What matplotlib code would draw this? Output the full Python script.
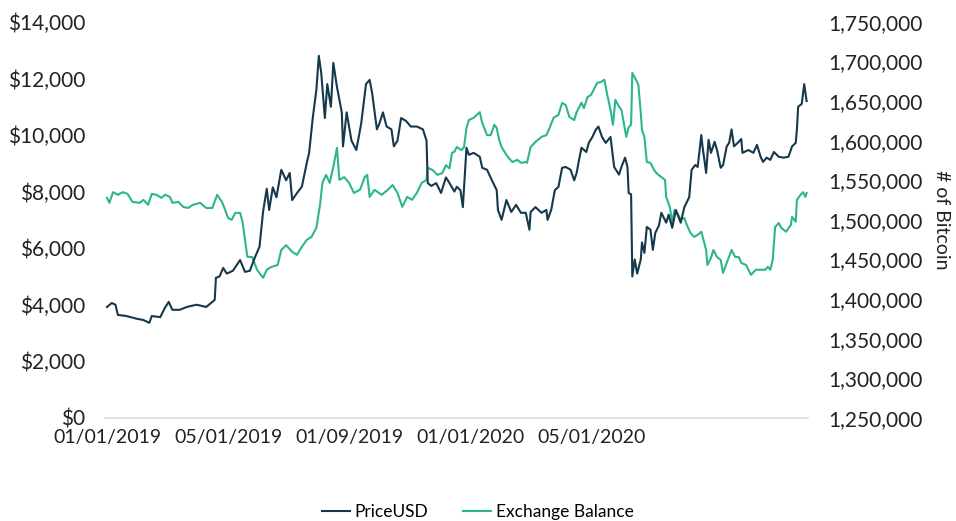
import numpy as np
import pandas as pd
import matplotlib
matplotlib.use("Agg")
import matplotlib.pyplot as plt
from matplotlib.ticker import FuncFormatter, MultipleLocator

plt.rcParams['font.family'] = ['Lato', 'DejaVu Sans']

START = pd.Timestamp("2019-01-01")

# day offsets from 2019-01-01 and BTC price (USD)
price_days = [0, 4, 7, 9, 16, 25, 30, 35, 37, 44, 48, 51, 54, 60, 66, 74, 82, 87, 89, 90,
              93, 96, 99, 104, 110, 114, 118, 122, 126, 129, 132, 134, 137, 140, 144, 148, 151, 153, 157, 161,
              165, 167, 170, 173, 175, 177, 180, 182, 185, 187, 190, 194, 195, 198, 202, 206, 210, 214, 217, 219,
              223, 225, 228, 231, 235, 237, 240, 243, 247, 251, 256, 261, 264, 265, 268, 272, 276, 280, 283, 287,
              289, 292, 294, 297, 299, 303, 308, 310, 314, 318, 322, 323, 326, 330, 334, 338, 342, 346, 349, 350,
              354, 359, 363, 364, 367, 370, 373, 376, 379, 383, 386, 388, 390, 392, 396, 398, 401, 404, 406, 409,
              412, 416, 419, 423, 425, 428, 430, 431, 433, 434, 436, 438, 441, 442, 444, 446, 449, 451, 453, 456,
              458, 462, 464, 467, 470, 474, 477, 481, 483, 486, 488, 491, 492, 495, 497, 499, 502, 504, 507, 509,
              512, 514, 516, 518, 522, 524, 525, 530, 534, 537, 540, 542, 545, 548, 551, 555, 559, 563, 566, 569,
              570, 571, 574, 576, 578]
price_usd = [3920, 4060, 4000, 3640, 3600, 3500, 3460, 3360, 3600, 3560, 3900, 4100, 3820, 3820, 3920, 4000, 3920, 4100, 4170, 4950,
             5000, 5300, 5100, 5200, 5580, 5160, 5200, 5650, 6050, 7300, 8100, 7350, 8150, 7800, 8770, 8400, 8660, 7700, 7950, 8170,
             9000, 9370, 10600, 11600, 12800, 12200, 10600, 11800, 11000, 12550, 11700, 10800, 9600, 10800, 9800, 9470, 10400, 11800, 11950, 11500,
             10200, 10400, 10800, 10300, 10200, 9600, 9800, 10600, 10500, 10300, 10300, 10200, 9800, 8300, 8200, 8300, 7950, 8500, 8300, 8000,
             8170, 8050, 7450, 9550, 9300, 9370, 9230, 8840, 8770, 8400, 8050, 7350, 7000, 7700, 7280, 7530, 7250, 7250, 6650, 7280,
             7450, 7250, 7350, 7000, 7350, 8050, 8170, 8840, 8870, 8770, 8400, 8660, 9120, 9550, 9400, 9720, 9930, 10200, 10300, 9930,
             9720, 9930, 8870, 8600, 8870, 9200, 8870, 7950, 7900, 5000, 5600, 5100, 5600, 6200, 5830, 6750, 6650, 5940, 6540, 6800,
             7250, 6900, 7180, 6720, 7350, 6900, 7450, 7800, 8770, 8940, 8870, 10000, 9600, 8660, 9830, 9370, 9760, 9470, 8840, 8940,
             9600, 9720, 10200, 9600, 9760, 9860, 9370, 9470, 9370, 9650, 9230, 9050, 9200, 9120, 9400, 9230, 9200, 9230, 9600, 9720,
             10200, 11000, 11100, 11800, 11200]

# day offsets and BTC held on exchanges
bal_days = [0, 2, 5, 9, 13, 17, 21, 27, 30, 34, 37, 41, 45, 48, 52, 54, 59, 63, 67, 71,
            77, 82, 87, 91, 95, 97, 100, 103, 106, 110, 112, 114, 116, 120, 124, 129, 132, 136, 141, 144,
            148, 153, 157, 161, 165, 169, 173, 176, 178, 181, 184, 187, 190, 192, 196, 200, 204, 209, 213, 215,
            217, 221, 227, 232, 236, 240, 244, 248, 252, 256, 260, 264, 265, 269, 273, 277, 280, 283, 285, 287,
            289, 293, 295, 297, 299, 303, 308, 310, 314, 317, 320, 322, 324, 326, 330, 332, 335, 339, 342, 346,
            347, 350, 354, 359, 363, 365, 369, 373, 376, 379, 382, 386, 388, 392, 394, 397, 400, 402, 405, 408,
            411, 413, 416, 418, 420, 423, 425, 429, 431, 433, 434, 437, 439, 441, 442, 444, 446, 449, 452, 454,
            458, 461, 462, 465, 467, 469, 472, 474, 477, 479, 482, 485, 488, 491, 495, 496, 499, 501, 504, 507,
            509, 512, 516, 519, 522, 524, 528, 532, 536, 540, 544, 546, 548, 550, 552, 555, 557, 561, 565, 566,
            569, 570, 573, 575, 577, 578]
exchange_balance = [1527800, 1521500, 1535000, 1531600, 1535000, 1532800, 1522700, 1521500, 1525300, 1519000,
                    1532800, 1531600, 1527800, 1531600, 1529000, 1521500, 1522700, 1516400, 1515000, 1519000,
                    1521500, 1515000, 1515000, 1531600, 1522700, 1515000, 1502500, 1500000, 1508800, 1508800,
                    1497500, 1474700, 1453300, 1453000, 1436900, 1426800, 1437000, 1440700, 1443000, 1462000,
                    1468000, 1459600, 1455800, 1466000, 1474700, 1478500, 1490000, 1519000, 1546700, 1556800,
                    1546700, 1567000, 1591000, 1550500, 1554000, 1546700, 1534000, 1538000, 1554000, 1556800,
                    1529000, 1538000, 1531600, 1538000, 1544000, 1534000, 1516400, 1529000, 1525300, 1534000,
                    1546700, 1550500, 1565700, 1563000, 1556800, 1559000, 1569000, 1565000, 1584600, 1586000,
                    1592000, 1588000, 1592000, 1616000, 1626000, 1629000, 1636000, 1622500, 1607000, 1607000,
                    1620000, 1616000, 1601000, 1592000, 1582000, 1578000, 1573000, 1575800, 1572000, 1573000,
                    1572000, 1592000, 1598500, 1604800, 1607000, 1613600, 1629000, 1632600, 1647700, 1645000,
                    1630000, 1626000, 1636000, 1648000, 1641000, 1655000, 1658000, 1664000, 1673000, 1674000,
                    1677000, 1660000, 1639000, 1620000, 1651500, 1643000, 1639000, 1604800, 1617000, 1620000,
                    1685600, 1677000, 1670500, 1635000, 1613600, 1605000, 1573000, 1572000, 1563000, 1559000,
                    1554000, 1550500, 1529000, 1516000, 1497500, 1512600, 1506000, 1500000, 1502500, 1493700,
                    1483600, 1478500, 1481000, 1485000, 1462000, 1443000, 1452000, 1462000, 1453000, 1449500,
                    1433000, 1445700, 1462000, 1453000, 1453000, 1445700, 1443000, 1430600, 1437000, 1437000,
                    1437000, 1440700, 1437000, 1449500, 1491000, 1496000, 1490000, 1485000, 1493700, 1503800,
                    1497500, 1525300, 1531600, 1535000, 1529000, 1534000]

tick_labels = ["01/01/2019", "05/01/2019", "01/09/2019", "01/01/2020", "05/01/2020"]

price_dates = START + pd.to_timedelta(price_days, unit="D")
bal_dates = START + pd.to_timedelta(bal_days, unit="D")
tick_dates = pd.date_range(START, periods=len(tick_labels), freq="100D")

DARK = "#15384b"
GREEN = "#2db590"

fig = plt.figure(figsize=(9.56, 5.21), dpi=100)
ax = fig.add_axes([0.110, 0.198, 0.735, 0.760])
ax2 = ax.twinx()

l1, = ax.plot(price_dates, price_usd, color=DARK, lw=1.5, label="PriceUSD")
l2, = ax2.plot(bal_dates, exchange_balance, color=GREEN, lw=1.5, label="Exchange Balance")
ax.set_zorder(ax2.get_zorder() + 1)
ax.patch.set_visible(False)

ax.set_ylim(0, 14000)
ax.yaxis.set_major_locator(MultipleLocator(2000))
ax.yaxis.set_major_formatter(FuncFormatter(lambda v, p: f"${v:,.0f}"))
ax2.set_ylim(1250000, 1750000)
ax2.yaxis.set_major_locator(MultipleLocator(50000))
ax2.yaxis.set_major_formatter(FuncFormatter(lambda v, p: f"{v:,.0f}"))

ax.set_xlim(START - pd.Timedelta(days=1.5), START + pd.Timedelta(days=579))
ax.set_xticks(tick_dates)
ax.set_xticklabels(tick_labels)

for a in (ax, ax2):
    for s in a.spines.values():
        s.set_visible(False)
    a.tick_params(length=0, labelsize=15, colors="#222222")
ax.spines["bottom"].set_visible(True)
ax.spines["bottom"].set_color("#d9d9d9")
ax.spines["bottom"].set_linewidth(1.2)
ax.tick_params(axis="y", pad=14.5)
ax.tick_params(axis="x", pad=8, labelsize=14)
ax2.tick_params(axis="y", pad=14.5)

ax2.set_ylabel("# of Bitcoin", rotation=270, fontsize=14, color="#222222", labelpad=20)

fig.legend([l1, l2], ["PriceUSD", "Exchange Balance"], loc="center", bbox_to_anchor=(0.5, 0.017),
           ncol=2, frameon=False, fontsize=12.5, handlelength=1.6, handletextpad=0.3, columnspacing=2.0)

fig.savefig("out.png", dpi=100)
